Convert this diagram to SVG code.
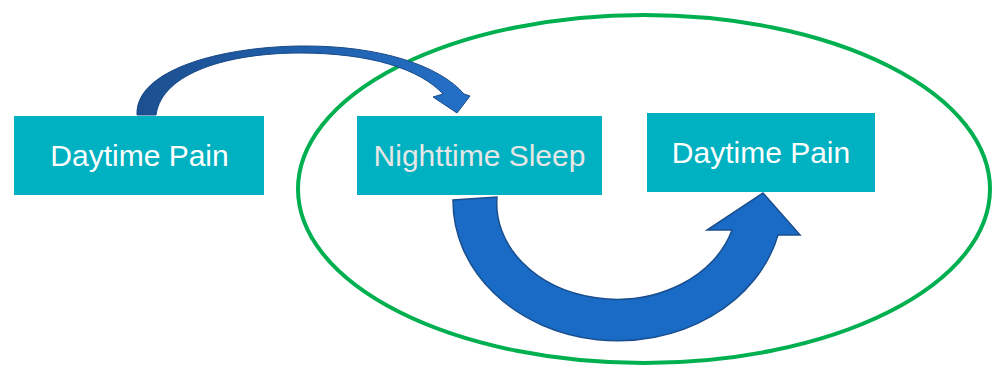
<svg xmlns="http://www.w3.org/2000/svg" width="992" height="365" viewBox="0 0 992 365">
  <style>
    .box { fill: #00B1C1; }
    .lbl { font-family: "Liberation Sans", Arial, sans-serif; font-size: 30px; text-anchor: middle; }
    .white { fill: #FFFFFF; }
    .grey { fill: #E6E6E6; }
    .ring { fill: none; stroke: #00B050; stroke-width: 4; }
    .big { fill: #1A6BC6; stroke: #1A4F8F; stroke-width: 1.5; stroke-linejoin: miter; }
    .small { fill: url(#smallGrad); stroke: #1A4A88; stroke-width: 1; }
  </style>
  <defs>
    <linearGradient id="smallGrad" x1="137" y1="0" x2="470" y2="0" gradientUnits="userSpaceOnUse">
      <stop offset="0" stop-color="#1C4F90"/>
      <stop offset="1" stop-color="#2470C8"/>
    </linearGradient>
  </defs>
  <rect width="992" height="365" fill="#FFFFFF"/>

  <g id="cycle-ellipse">
    <ellipse class="ring" cx="644" cy="189" rx="346" ry="174"/>
  </g>

  <g id="connectors">
    <path class="small" d="M 137,115 C 135,70 220,47 300,46 C 380,45 440,66 464,94 L 470,96 L 457,113 L 433,97 L 443,94 C 420,69 370,53 300,53 C 230,53 162,72 156,115 Z"/>
    <path class="big" d="M 453,200 A 165 140 0 0 0 778,235 L 800,235 L 763,193 L 707,230 L 732,230 A 120 96 0 0 1 497,197 Z"/>
  </g>

  <g id="node-daytime-pain-1">
    <rect class="box" x="14" y="116" width="250" height="79"/>
    <text class="lbl white" x="139.5" y="166">Daytime Pain</text>
  </g>

  <g id="node-nighttime-sleep">
    <rect class="box" x="357" y="116" width="245" height="79"/>
    <text class="lbl grey" x="479.5" y="166">Nighttime Sleep</text>
  </g>

  <g id="node-daytime-pain-2">
    <rect class="box" x="647" y="113" width="228" height="79"/>
    <text class="lbl white" x="761" y="163">Daytime Pain</text>
  </g>
</svg>
